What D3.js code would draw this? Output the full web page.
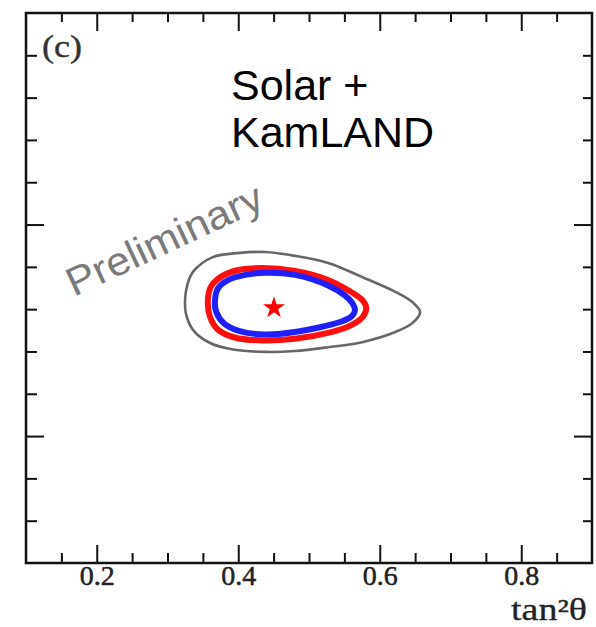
<!DOCTYPE html>
<html>
<head>
<meta charset="utf-8">
<script src="https://cdn.jsdelivr.net/npm/d3@7"></script>
<style>
  body { margin: 0; background: #fff; }
  svg { display: block; }
</style>
</head>
<body>
<div id="vis"></div>
<script>
const FRAME_WIDTH = 596;
const FRAME_HEIGHT = 627;
const MARGINS = {left: 26, right: 4, top: 13, bottom: 64};

// x = tan^2(theta), y = delta m^2 (1e-5 eV^2, no labels on the picture)
const X_DOMAIN = [0.1, 0.9];
const Y_DOMAIN = [2, 15];
const X_MAJOR = [0.2, 0.4, 0.6, 0.8];
const X_MINOR = [0.15, 0.25, 0.3, 0.35, 0.45, 0.5, 0.55, 0.65, 0.7, 0.75, 0.85];
const Y_MAJOR = [5, 10];
const Y_MINOR = [3, 4, 6, 7, 8, 9, 11, 12, 13, 14];

// outer grey contour
const greyX = [0.325, 0.328, 0.336, 0.364, 0.402, 0.438, 0.480, 0.527, 0.575, 0.622, 0.646, 0.657,
               0.646, 0.622, 0.575, 0.527, 0.480, 0.438, 0.395, 0.360, 0.336, 0.326];
const greyY = [8.26, 8.57, 8.88, 9.23, 9.33, 9.35, 9.26, 9.09, 8.76, 8.41, 8.17, 7.93,
               7.67, 7.46, 7.22, 7.10, 7.01, 6.99, 7.04, 7.20, 7.51, 7.90];
// red contour
const redX = [0.357, 0.361, 0.377, 0.402, 0.434, 0.480, 0.527, 0.555, 0.575, 0.581,
              0.576, 0.557, 0.527, 0.480, 0.434, 0.395, 0.371, 0.360];
const redY = [8.17, 8.52, 8.78, 8.93, 8.97, 8.90, 8.69, 8.45, 8.22, 8.03,
              7.82, 7.60, 7.44, 7.30, 7.26, 7.33, 7.52, 7.82];
// blue contour
const blueX = [0.367, 0.371, 0.386, 0.410, 0.438, 0.480, 0.527, 0.551, 0.561, 0.565,
               0.561, 0.548, 0.520, 0.480, 0.438, 0.402, 0.380, 0.369];
const blueY = [8.17, 8.48, 8.69, 8.81, 8.86, 8.81, 8.56, 8.32, 8.15, 7.98,
               7.84, 7.72, 7.59, 7.46, 7.40, 7.48, 7.66, 7.93];
// best fit point
const bestFit = [0.4505, 8.03];

const VIS_WIDTH = FRAME_WIDTH - MARGINS.left - MARGINS.right;
const VIS_HEIGHT = FRAME_HEIGHT - MARGINS.top - MARGINS.bottom;

const svg = d3.select("#vis")
  .append("svg")
    .attr("width", FRAME_WIDTH)
    .attr("height", FRAME_HEIGHT);

const X_SCALE = d3.scaleLinear().domain(X_DOMAIN).range([MARGINS.left, MARGINS.left + VIS_WIDTH]);
const Y_SCALE = d3.scaleLinear().domain(Y_DOMAIN).range([MARGINS.top + VIS_HEIGHT, MARGINS.top]);

const bottomY = MARGINS.top + VIS_HEIGHT;
const rightX = MARGINS.left + VIS_WIDTH;

// contours
const line = d3.line()
  .x(d => X_SCALE(d[0]))
  .y(d => Y_SCALE(d[1]))
  .curve(d3.curveCatmullRomClosed.alpha(0.5));

const contours = [
  {xs: greyX, ys: greyY, color: "#676767", width: 2.6},
  {xs: redX, ys: redY, color: "#ff1010", width: 6},
  {xs: blueX, ys: blueY, color: "#2020ff", width: 6}
];

svg.selectAll(".contour")
  .data(contours)
  .enter()
  .append("path")
    .attr("class", "contour")
    .attr("d", c => line(d3.zip(c.xs, c.ys)))
    .attr("fill", "none")
    .attr("stroke", c => c.color)
    .attr("stroke-width", c => c.width)
    .attr("stroke-linejoin", "round");

// star
svg.append("path")
  .attr("d", d3.symbol(d3.symbolStar, 150)())
  .attr("transform", "translate(" + X_SCALE(bestFit[0]) + "," + Y_SCALE(bestFit[1]) + ")")
  .attr("fill", "#ff0000");

// axes, ticks pointing inward
function styleAxis(g) {
  g.select(".domain").remove();
  g.selectAll(".tick line").attr("stroke", "#111").attr("stroke-width", 2);
}

svg.append("g")
  .attr("transform", "translate(0," + bottomY + ")")
  .call(d3.axisBottom(X_SCALE).tickValues(X_MAJOR).tickSize(-18).tickPadding(2)
        .tickFormat(d3.format(".1f")))
  .call(styleAxis)
  .selectAll("text")
    .attr("font-family", "'Liberation Serif', 'Times New Roman', serif")
    .attr("font-size", "28px")
    .attr("fill", "#222")
    .attr("stroke", "#222")
    .attr("stroke-width", 0.5)
    .attr("textLength", 35)
    .attr("lengthAdjust", "spacingAndGlyphs");

svg.append("g")
  .attr("transform", "translate(0," + bottomY + ")")
  .call(d3.axisBottom(X_SCALE).tickValues(X_MINOR).tickSize(-10).tickFormat(""))
  .call(styleAxis);

svg.append("g")
  .attr("transform", "translate(0," + MARGINS.top + ")")
  .call(d3.axisTop(X_SCALE).tickValues(X_MAJOR).tickSize(-18).tickFormat(""))
  .call(styleAxis);

svg.append("g")
  .attr("transform", "translate(0," + MARGINS.top + ")")
  .call(d3.axisTop(X_SCALE).tickValues(X_MINOR).tickSize(-9).tickFormat(""))
  .call(styleAxis);

svg.append("g")
  .attr("transform", "translate(" + MARGINS.left + ",0)")
  .call(d3.axisLeft(Y_SCALE).tickValues(Y_MAJOR).tickSize(-18).tickFormat(""))
  .call(styleAxis);

svg.append("g")
  .attr("transform", "translate(" + MARGINS.left + ",0)")
  .call(d3.axisLeft(Y_SCALE).tickValues(Y_MINOR).tickSize(-11).tickFormat(""))
  .call(styleAxis);

svg.append("g")
  .attr("transform", "translate(" + rightX + ",0)")
  .call(d3.axisRight(Y_SCALE).tickValues(Y_MAJOR).tickSize(-18).tickFormat(""))
  .call(styleAxis);

svg.append("g")
  .attr("transform", "translate(" + rightX + ",0)")
  .call(d3.axisRight(Y_SCALE).tickValues(Y_MINOR).tickSize(-9).tickFormat(""))
  .call(styleAxis);

// frame
svg.append("rect")
  .attr("x", MARGINS.left)
  .attr("y", MARGINS.top)
  .attr("width", VIS_WIDTH)
  .attr("height", VIS_HEIGHT)
  .attr("fill", "none")
  .attr("stroke", "#111")
  .attr("stroke-width", 2.5);

// texts
svg.append("text")
  .attr("x", 42)
  .attr("y", 57)
  .attr("font-family", "'Liberation Serif', 'Times New Roman', serif")
  .attr("font-size", "32px")
  .attr("fill", "#333")
  .attr("stroke", "#333")
  .attr("stroke-width", 0.4)
  .attr("textLength", 40)
  .attr("lengthAdjust", "spacingAndGlyphs")
  .text("(c)");

svg.append("text")
  .attr("x", 231)
  .attr("y", 100)
  .attr("font-family", "Liberation Sans, Arial, sans-serif")
  .attr("font-size", "43px")
  .attr("fill", "#000")
  .text("Solar +");

svg.append("text")
  .attr("x", 231)
  .attr("y", 147)
  .attr("font-family", "Liberation Sans, Arial, sans-serif")
  .attr("font-size", "43px")
  .attr("fill", "#000")
  .text("KamLAND");

svg.append("text")
  .attr("transform", "translate(74,297) rotate(-25)")
  .attr("font-family", "Liberation Sans, Arial, sans-serif")
  .attr("font-size", "40px")
  .attr("fill", "#7a7a7a")
  .attr("textLength", 212)
  .attr("lengthAdjust", "spacingAndGlyphs")
  .text("Preliminary");

svg.append("text")
  .attr("x", 587)
  .attr("y", 620)
  .attr("text-anchor", "end")
  .attr("font-family", "'Liberation Serif', 'Times New Roman', serif")
  .attr("font-size", "31px")
  .attr("fill", "#222")
  .attr("stroke", "#222")
  .attr("stroke-width", 0.3)
  .attr("textLength", 76)
  .attr("lengthAdjust", "spacingAndGlyphs")
  .text("tan²θ");
</script>
</body>
</html>
